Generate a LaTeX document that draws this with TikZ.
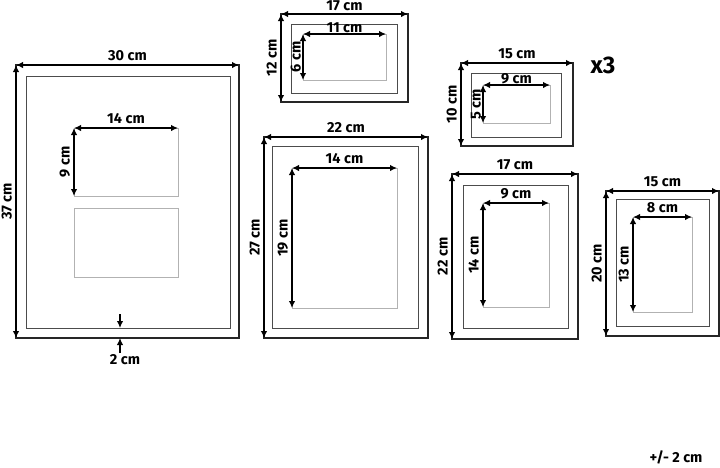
\documentclass[tikz,border=0pt]{standalone}
\usepackage{fontspec}
\setmainfont{Fira Sans}
\usetikzlibrary{arrows.meta,fit}
\tikzset{
  outer/.style={draw=black!85, line width=1.1pt, inner sep=0pt, outer sep=0pt},
  mat/.style={draw=black!70, line width=1pt, inner sep=0pt, outer sep=0pt},
  hole/.style={draw=black!30, line width=0.8pt, inner sep=0pt, outer sep=0pt},
  dim/.style={{Latex[length=7pt,width=6.5pt]}-{Latex[length=7pt,width=6.5pt]}, line width=2.1pt},
  tip/.style={-{Latex[length=7pt,width=6.5pt]}, line width=2.1pt},
  lbl/.style={font=\bfseries\fontsize{14.5}{15}\selectfont, inner sep=3pt},
  hlen/.style={lbl, midway, anchor=south},
  vlen/.style={lbl, midway, rotate=90, anchor=south}
}
\begin{document}
\begin{tikzpicture}[x=1pt,y=-1pt]
\useasboundingbox (0,0) rectangle (720,467);
% 30 x 37
\node[outer,fit={(16,65) (239,338)}] (F1) {};
\node[mat,fit={(26,76) (230,328)}] (M1) {};
\node[hole,fit={(74,128) (178,196)}] (H1) {};
\node[hole,fit={(74,208) (178,277)}] (H1b) {};
\draw[dim] (F1.north west) -- (F1.north east) node[hlen]{30 cm};
\draw[dim] (F1.north west) -- (F1.south west) node[vlen]{37 cm};
\draw[dim] (H1.north west) -- (H1.north east) node[hlen]{14 cm};
\draw[dim] (H1.north west) -- (H1.south west) node[vlen]{9 cm};
\coordinate (g1) at (120,314);
\coordinate (g2) at (120,353);
\node[lbl] (two) at (125,360) {2 cm};
\draw[tip] (g1) -- (g1 |- M1.south);
\draw[tip] (g2) -- (g2 |- F1.south);
% 17 x 12
\node[outer,fit={(281,14) (408,102)}] (F2) {};
\node[mat,fit={(291,24) (397,93)}] (M2) {};
\node[hole,fit={(303,34) (386,80)}] (H2) {};
\draw[dim] (F2.north west) -- (F2.north east) node[hlen,inner sep=2pt]{17 cm};
\draw[dim] (F2.north west) -- (F2.south west) node[vlen]{12 cm};
\draw[dim] (H2.north west) -- (H2.north east) node[hlen,inner sep=0pt]{11 cm};
\draw[dim] (H2.north west) -- (H2.south west) node[vlen,inner sep=1pt]{6 cm};
% 15 x 10
\node[outer,fit={(461,63) (573,146)}] (F3) {};
\node[mat,fit={(471,73) (561,137)}] (M3) {};
\node[hole,fit={(483,85) (550,123)}] (H3) {};
\draw[dim] (F3.north west) -- (F3.north east) node[hlen]{15 cm};
\draw[dim] (F3.north west) -- (F3.south west) node[vlen]{10 cm};
\draw[dim] (H3.north west) -- (H3.north east) node[hlen,inner sep=0pt]{9 cm};
\draw[dim] (H3.north west) -- (H3.south west) node[vlen,inner sep=1pt]{5 cm};
\node[font=\bfseries\fontsize{24}{24}\selectfont] (times) at (603,65) {x3};
% 22 x 27
\node[outer,fit={(264,137) (428,338)}] (F4) {};
\node[mat,fit={(272,146) (418,328)}] (M4) {};
\node[hole,fit={(292,168) (397,308)}] (H4) {};
\draw[dim] (F4.north west) -- (F4.north east) node[hlen]{22 cm};
\draw[dim] (F4.north west) -- (F4.south west) node[vlen]{27 cm};
\draw[dim] (H4.north west) -- (H4.north east) node[hlen]{14 cm};
\draw[dim] (H4.north west) -- (H4.south west) node[vlen]{19 cm};
% 17 x 22
\node[outer,fit={(452,174) (578,339)}] (F5) {};
\node[mat,fit={(463,185) (568,328)}] (M5) {};
\node[hole,fit={(483,203) (549,307)}] (H5) {};
\draw[dim] (F5.north west) -- (F5.north east) node[hlen]{17 cm};
\draw[dim] (F5.north west) -- (F5.south west) node[vlen]{22 cm};
\draw[dim] (H5.north west) -- (H5.north east) node[hlen]{9 cm};
\draw[dim] (H5.north west) -- (H5.south west) node[vlen]{14 cm};
% 15 x 20
\node[outer,fit={(606,191) (719,336)}] (F6) {};
\node[mat,fit={(616,199) (709,326)}] (M6) {};
\node[hole,fit={(633,217) (692,312)}] (H6) {};
\draw[dim] (F6.north west) -- (F6.north east) node[hlen]{15 cm};
\draw[dim] (F6.north west) -- (F6.south west) node[vlen]{20 cm};
\draw[dim] (H6.north west) -- (H6.north east) node[hlen]{8 cm};
\draw[dim] (H6.north west) -- (H6.south west) node[vlen]{13 cm};
\node[lbl] (tol) at (676,457) {+/- 2 cm};
\end{tikzpicture}
\end{document}
